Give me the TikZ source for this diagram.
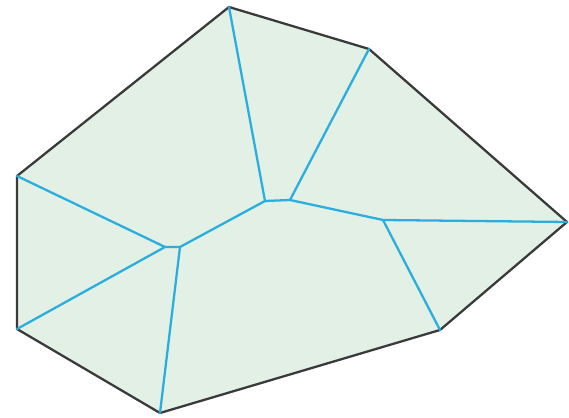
\documentclass[tikz,border=0pt]{standalone}
\definecolor{skelblue}{HTML}{2BAEDD}
\definecolor{facegreen}{HTML}{E2F0E5}
\definecolor{rimgray}{HTML}{3A3A3A}
\begin{document}
\begin{tikzpicture}[
  x=0.02cm, y=-0.02cm,
  rim/.style={draw=rimgray, line width=1.3pt, line join=round, fill=facegreen},
  skel/.style={draw=skelblue, line width=1.3pt, line cap=round}
]
\useasboundingbox (0,0) rectangle (569,418);
% outer polygon
\coordinate (top) at (229,7);
\coordinate (ne) at (369,49);
\coordinate (east) at (567,222);
\coordinate (se) at (440,330);
\coordinate (south) at (160,413);
\coordinate (sw) at (17,329);
\coordinate (nw) at (17,176);
% skeleton nodes
\coordinate (a) at (165,247);
\coordinate (b) at (180,247);
\coordinate (c) at (265,201);
\coordinate (d) at (290,200);
\coordinate (e) at (383,220);
\draw[rim] (top) -- (ne) -- (east) -- (se) -- (south) -- (sw) -- (nw) -- cycle;
\draw[skel] (nw) -- (a) -- (sw);
\draw[skel] (a) -- (b) -- (south);
\draw[skel] (b) -- (c) -- (top);
\draw[skel] (c) -- (d) -- (ne);
\draw[skel] (d) -- (e) -- (east);
\draw[skel] (e) -- (se);
\end{tikzpicture}
\end{document}
